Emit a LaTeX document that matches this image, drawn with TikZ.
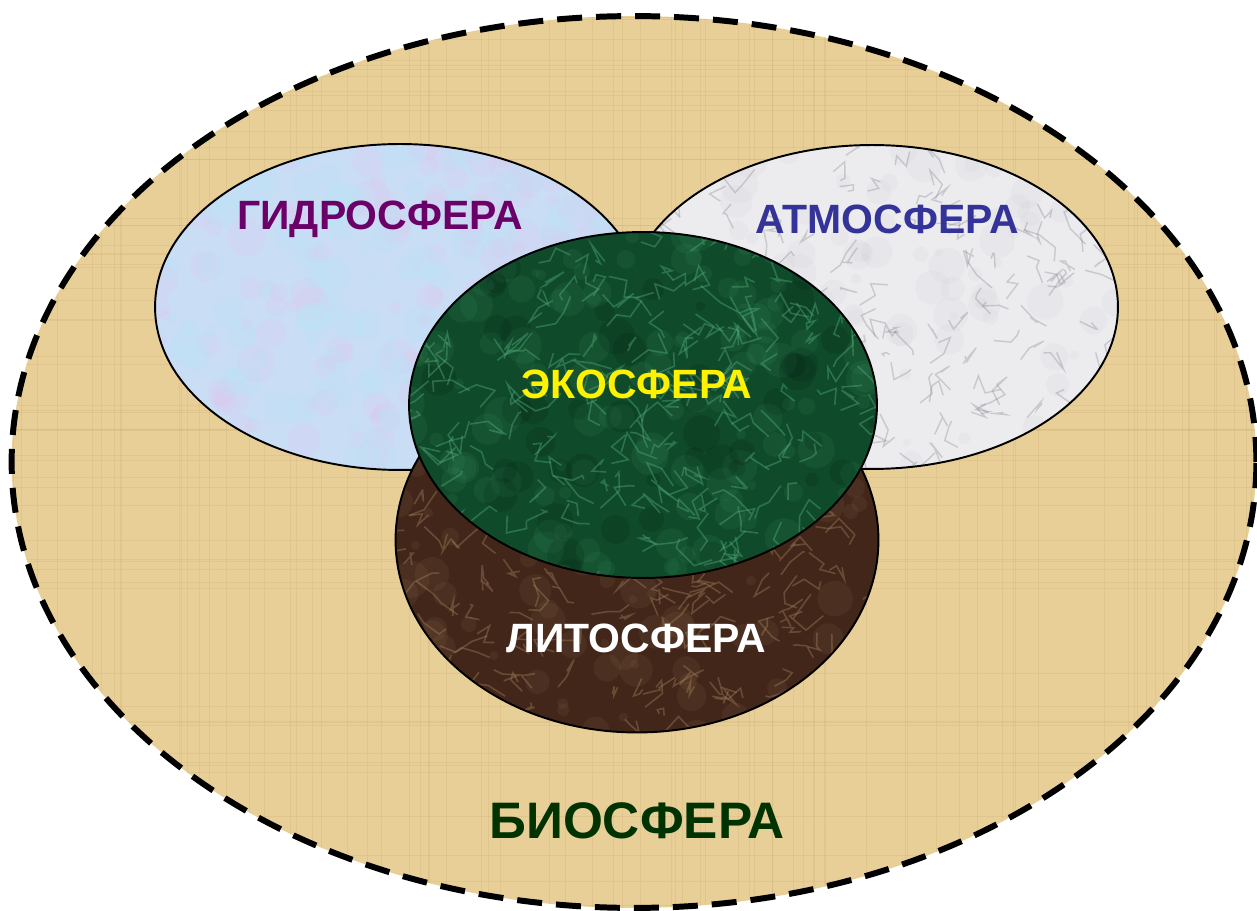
\documentclass[tikz,border=0pt]{standalone}
\usepackage{fontspec}
\setmainfont{Liberation Sans}
\usetikzlibrary{shapes.geometric}

\definecolor{papyrus}{HTML}{E8CF97}
\definecolor{papyrusdark}{HTML}{C4A66A}
\definecolor{hydrofill}{HTML}{C9DDF5}
\definecolor{hydropink}{HTML}{E0C6EE}
\definecolor{hydrocyan}{HTML}{B8E6F6}
\definecolor{atmofill}{HTML}{ECECEF}
\definecolor{atmovein}{HTML}{85858E}
\definecolor{ecofill}{HTML}{0F4A2A}
\definecolor{ecovein}{HTML}{4FA777}
\definecolor{lithofill}{HTML}{42261A}
\definecolor{lithovein}{HTML}{A4825E}
\definecolor{hydrotext}{HTML}{6A0068}
\definecolor{atmotext}{HTML}{333399}
\definecolor{biotext}{HTML}{003300}

% random veins inside a node's path picture
\newcommand{\veins}[5]{%
  \foreach \k in {1,...,#2}
    \draw[solid, #1] ([shift={(rand*#3,rand*#4)}]path picture bounding box.center)
      -- ++({rand*#5},{rand*#5}) -- ++({rand*#5},{rand*#5}) -- ++({rand*#5},{rand*#5});
}
% soft blotches inside a node's path picture
\newcommand{\blotches}[4]{%
  \foreach \k in {1,...,#2}
    \fill[#1] ([shift={(rand*#3,rand*#4)}]path picture bounding box.center) circle ({0.08cm+0.3cm*rnd});
}

\begin{document}
\pgfmathsetseed{7}
\begin{tikzpicture}[x=0.02cm, y=-0.02cm,
		sphere/.style={ellipse, draw, line width=1.1pt, inner sep=0pt},
		label/.style={font=\bfseries\fontsize{23.3}{25}\selectfont},
		]
		
		\useasboundingbox (0,0) rectangle (1257,911);
		
		% Nodes
		\node[sphere, line width=3.4pt, dash pattern=on 0.5cm off 0.28cm, fill=papyrus,
			minimum width=24.9cm, minimum height=17.84cm,
			path picture={
				\foreach \k in {1,...,80}
				\draw[solid, papyrusdark, opacity=0.22, line width=0.5pt] ([shift={(rand*12.5cm,0)}]path picture bounding box.center) ++(0,-9cm) -- ++(0,18cm);
				\foreach \k in {1,...,60}
				\draw[solid, papyrusdark, opacity=0.22, line width=0.5pt] ([shift={(0,rand*9cm)}]path picture bounding box.center) ++(-12.5cm,0) -- ++(25cm,0);
			}] (bio) at (634,462) {};
		\node[sphere, fill=hydrofill, minimum width=9.8cm, minimum height=6.52cm,
			path picture={
				\blotches{hydropink, opacity=0.25}{160}{5cm}{3.3cm}
				\blotches{hydrocyan, opacity=0.25}{160}{5cm}{3.3cm}
			}] (hydro) at (400,307) {};
		\node[sphere, fill=atmofill, minimum width=9.84cm, minimum height=6.48cm,
			path picture={
				\blotches{atmovein, opacity=0.04}{120}{5cm}{3.3cm}
				\veins{atmovein, opacity=0.35, line width=0.8pt}{160}{5cm}{3.3cm}{0.35cm}
			}] (atmo) at (872,307) {};
		\node[sphere, fill=lithofill, minimum width=9.66cm, minimum height=7.7cm,
			path picture={
				\blotches{lithovein, opacity=0.1}{150}{5cm}{4cm}
				\veins{lithovein, opacity=0.4, line width=0.9pt}{220}{5cm}{4cm}{0.35cm}
			}] (litho) at (637,540) {};
		\node[sphere, fill=ecofill, minimum width=9.36cm, minimum height=6.92cm,
			path picture={
				\blotches{ecovein, opacity=0.1}{150}{4.8cm}{3.5cm}
				\blotches{black, opacity=0.1}{60}{4.8cm}{3.5cm}
				\veins{ecovein, opacity=0.45, line width=0.9pt}{220}{4.8cm}{3.5cm}{0.4cm}
			}] (eco) at (643,405) {};
		
		% Labels
		\node[label, hydrotext] (hydrolabel) at (380,219) {ГИДРОСФЕРА};
		\node[label, atmotext] (atmolabel) at (887,219) {АТМОСФЕРА};
		\node[label, yellow] (ecolabel) at (637,384) {ЭКОСФЕРА};
		\node[label, white] (litholabel) at (636,638) {ЛИТОСФЕРА};
		\node[label, biotext, font=\bfseries\fontsize{29.2}{31}\selectfont] (biolabel) at (637,821) {БИОСФЕРА};
		
	\end{tikzpicture}
\end{document}
